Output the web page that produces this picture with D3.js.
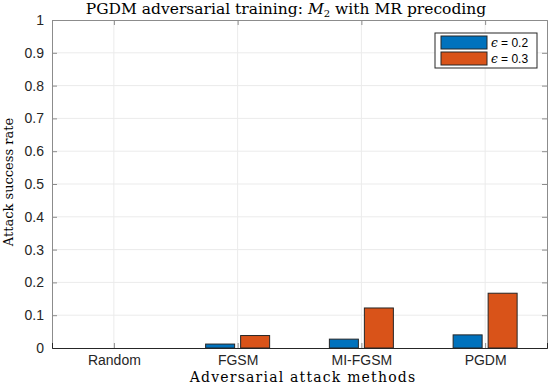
<!DOCTYPE html>
<html>
<head>
<meta charset="utf-8">
<script src="https://cdn.jsdelivr.net/npm/d3@7"></script>
<style>
  body { margin: 0; background: #fff; }
  .tick text { font-family: "Liberation Sans", Arial, sans-serif; font-size: 14px; fill: #262626; }
</style>
</head>
<body>
<script>
var categories = ["Random", "FGSM", "MI-FGSM", "PGDM"];
var eps02 = [0, 0.012, 0.027, 0.040];
var eps03 = [0, 0.038, 0.122, 0.167];
var seriesNames = ["0.2", "0.3"];
var seriesColors = ["#0072BD", "#D95319"];
var yTicks = [0, 0.1, 0.2, 0.3, 0.4, 0.5, 0.6, 0.7, 0.8, 0.9, 1];

var w = 550, h = 384;
var mLeft = 52, mRight = 547, mTop = 20, mBottom = 348;

var svg = d3.select("body").append("svg")
    .attr("width", w)
    .attr("height", h);

// category positions 1..4, axis from 0.5 to 4.5
var x = d3.scaleLinear().domain([0.5, 4.5]).range([mLeft, mRight]);
var y = d3.scaleLinear().domain([0, 1]).range([mBottom, mTop]);
var barW = 29, offset = 17.5;

// grid
svg.append("g").selectAll("line")
    .data(yTicks.slice(1, -1))
    .enter().append("line")
    .attr("x1", mLeft).attr("x2", mRight)
    .attr("y1", function(d){ return y(d); })
    .attr("y2", function(d){ return y(d); })
    .style("stroke", "#ebebeb");
svg.append("g").selectAll("line")
    .data(categories)
    .enter().append("line")
    .attr("x1", function(d, i){ return x(i + 1); })
    .attr("x2", function(d, i){ return x(i + 1); })
    .attr("y1", mTop).attr("y2", mBottom)
    .style("stroke", "#ebebeb");

// bars
var series = [eps02, eps03];
series.forEach(function(vals, s){
    svg.append("g").selectAll("rect")
        .data(vals)
        .enter().append("rect")
        .attr("x", function(d, i){ return x(i + 1) + (s === 0 ? -offset : offset) - barW / 2; })
        .attr("width", barW)
        .attr("y", function(d){ return y(d); })
        .attr("height", function(d){ return y(0) - y(d); })
        .style("fill", seriesColors[s])
        .style("stroke", "#262626")
        .style("stroke-width", 1);
});

// axes (MATLAB style, ticks inside)
var yAxisL = d3.axisLeft(y).tickValues(yTicks).tickSize(-5).tickPadding(8)
    .tickFormat(function(d){ return d === 0 || d === 1 ? d3.format("d")(d) : d3.format(".1f")(d); });
var gl = svg.append("g").attr("transform", "translate(" + mLeft + ",0)").call(yAxisL);
var yAxisR = d3.axisRight(y).tickValues(yTicks).tickSize(-5).tickFormat("");
var gr = svg.append("g").attr("transform", "translate(" + mRight + ",0)").call(yAxisR);
var xAxisB = d3.axisBottom(x).tickValues([1, 2, 3, 4]).tickSize(-5).tickPadding(7)
    .tickFormat(function(d){ return categories[d - 1]; });
var gb = svg.append("g").attr("transform", "translate(0," + mBottom + ")").call(xAxisB);
var xAxisT = d3.axisTop(x).tickValues([1, 2, 3, 4]).tickSize(-5).tickFormat("");
var gt = svg.append("g").attr("transform", "translate(0," + mTop + ")").call(xAxisT);

[gl, gr, gt].forEach(function(g){
    g.select(".domain").style("stroke", "#8c8c8c");
    g.selectAll(".tick line").style("stroke", "#8c8c8c");
});
gb.select(".domain").style("stroke", "#262626");
gb.selectAll(".tick line").style("stroke", "#8c8c8c");

// title
var title = svg.append("text")
    .attr("x", 286)
    .attr("y", 14)
    .attr("text-anchor", "middle")
    .style("font-family", "'DejaVu Serif', serif")
    .style("font-size", "15.5px")
    .style("fill", "#000");
title.append("tspan").text("PGDM adversarial training: ");
title.append("tspan").style("font-style", "italic").text("M");
title.append("tspan").attr("dy", 3).style("font-size", "10px").text("2");
title.append("tspan").attr("dy", -3).text(" with MR precoding");

// axis labels
svg.append("text")
    .attr("x", 303)
    .attr("y", 382)
    .attr("text-anchor", "middle")
    .style("font-family", "'DejaVu Serif', serif")
    .style("font-size", "14px")
    .style("letter-spacing", "1.2px")
    .text("Adversarial attack methods");

svg.append("text")
    .attr("transform", "translate(13," + 182 + ") rotate(-90)")
    .attr("text-anchor", "middle")
    .style("font-family", "'DejaVu Serif', serif")
    .style("font-size", "13px")
    .text("Attack success rate");

// legend
var lg = svg.append("g").attr("transform", "translate(435,33)");
lg.append("rect")
    .attr("width", 102).attr("height", 35)
    .style("fill", "#fff")
    .style("stroke", "#262626");
var items = lg.selectAll(".item")
    .data(seriesNames)
    .enter().append("g")
    .attr("transform", function(d, i){ return "translate(0," + (i * 16) + ")"; });
items.append("rect")
    .attr("x", 6).attr("y", 3)
    .attr("width", 46).attr("height", 13)
    .style("fill", function(d, i){ return seriesColors[i]; })
    .style("stroke", "#262626");
var lt = items.append("text")
    .attr("x", 56).attr("y", 14)
    .style("font-size", "12px")
    .style("fill", "#000");
lt.append("tspan").style("font-family", "'DejaVu Serif', serif").style("font-style", "italic").text("\u03f5");
lt.append("tspan").style("font-family", "'Liberation Sans', sans-serif").text(function(d){ return " = " + d; });
</script>
</body>
</html>
